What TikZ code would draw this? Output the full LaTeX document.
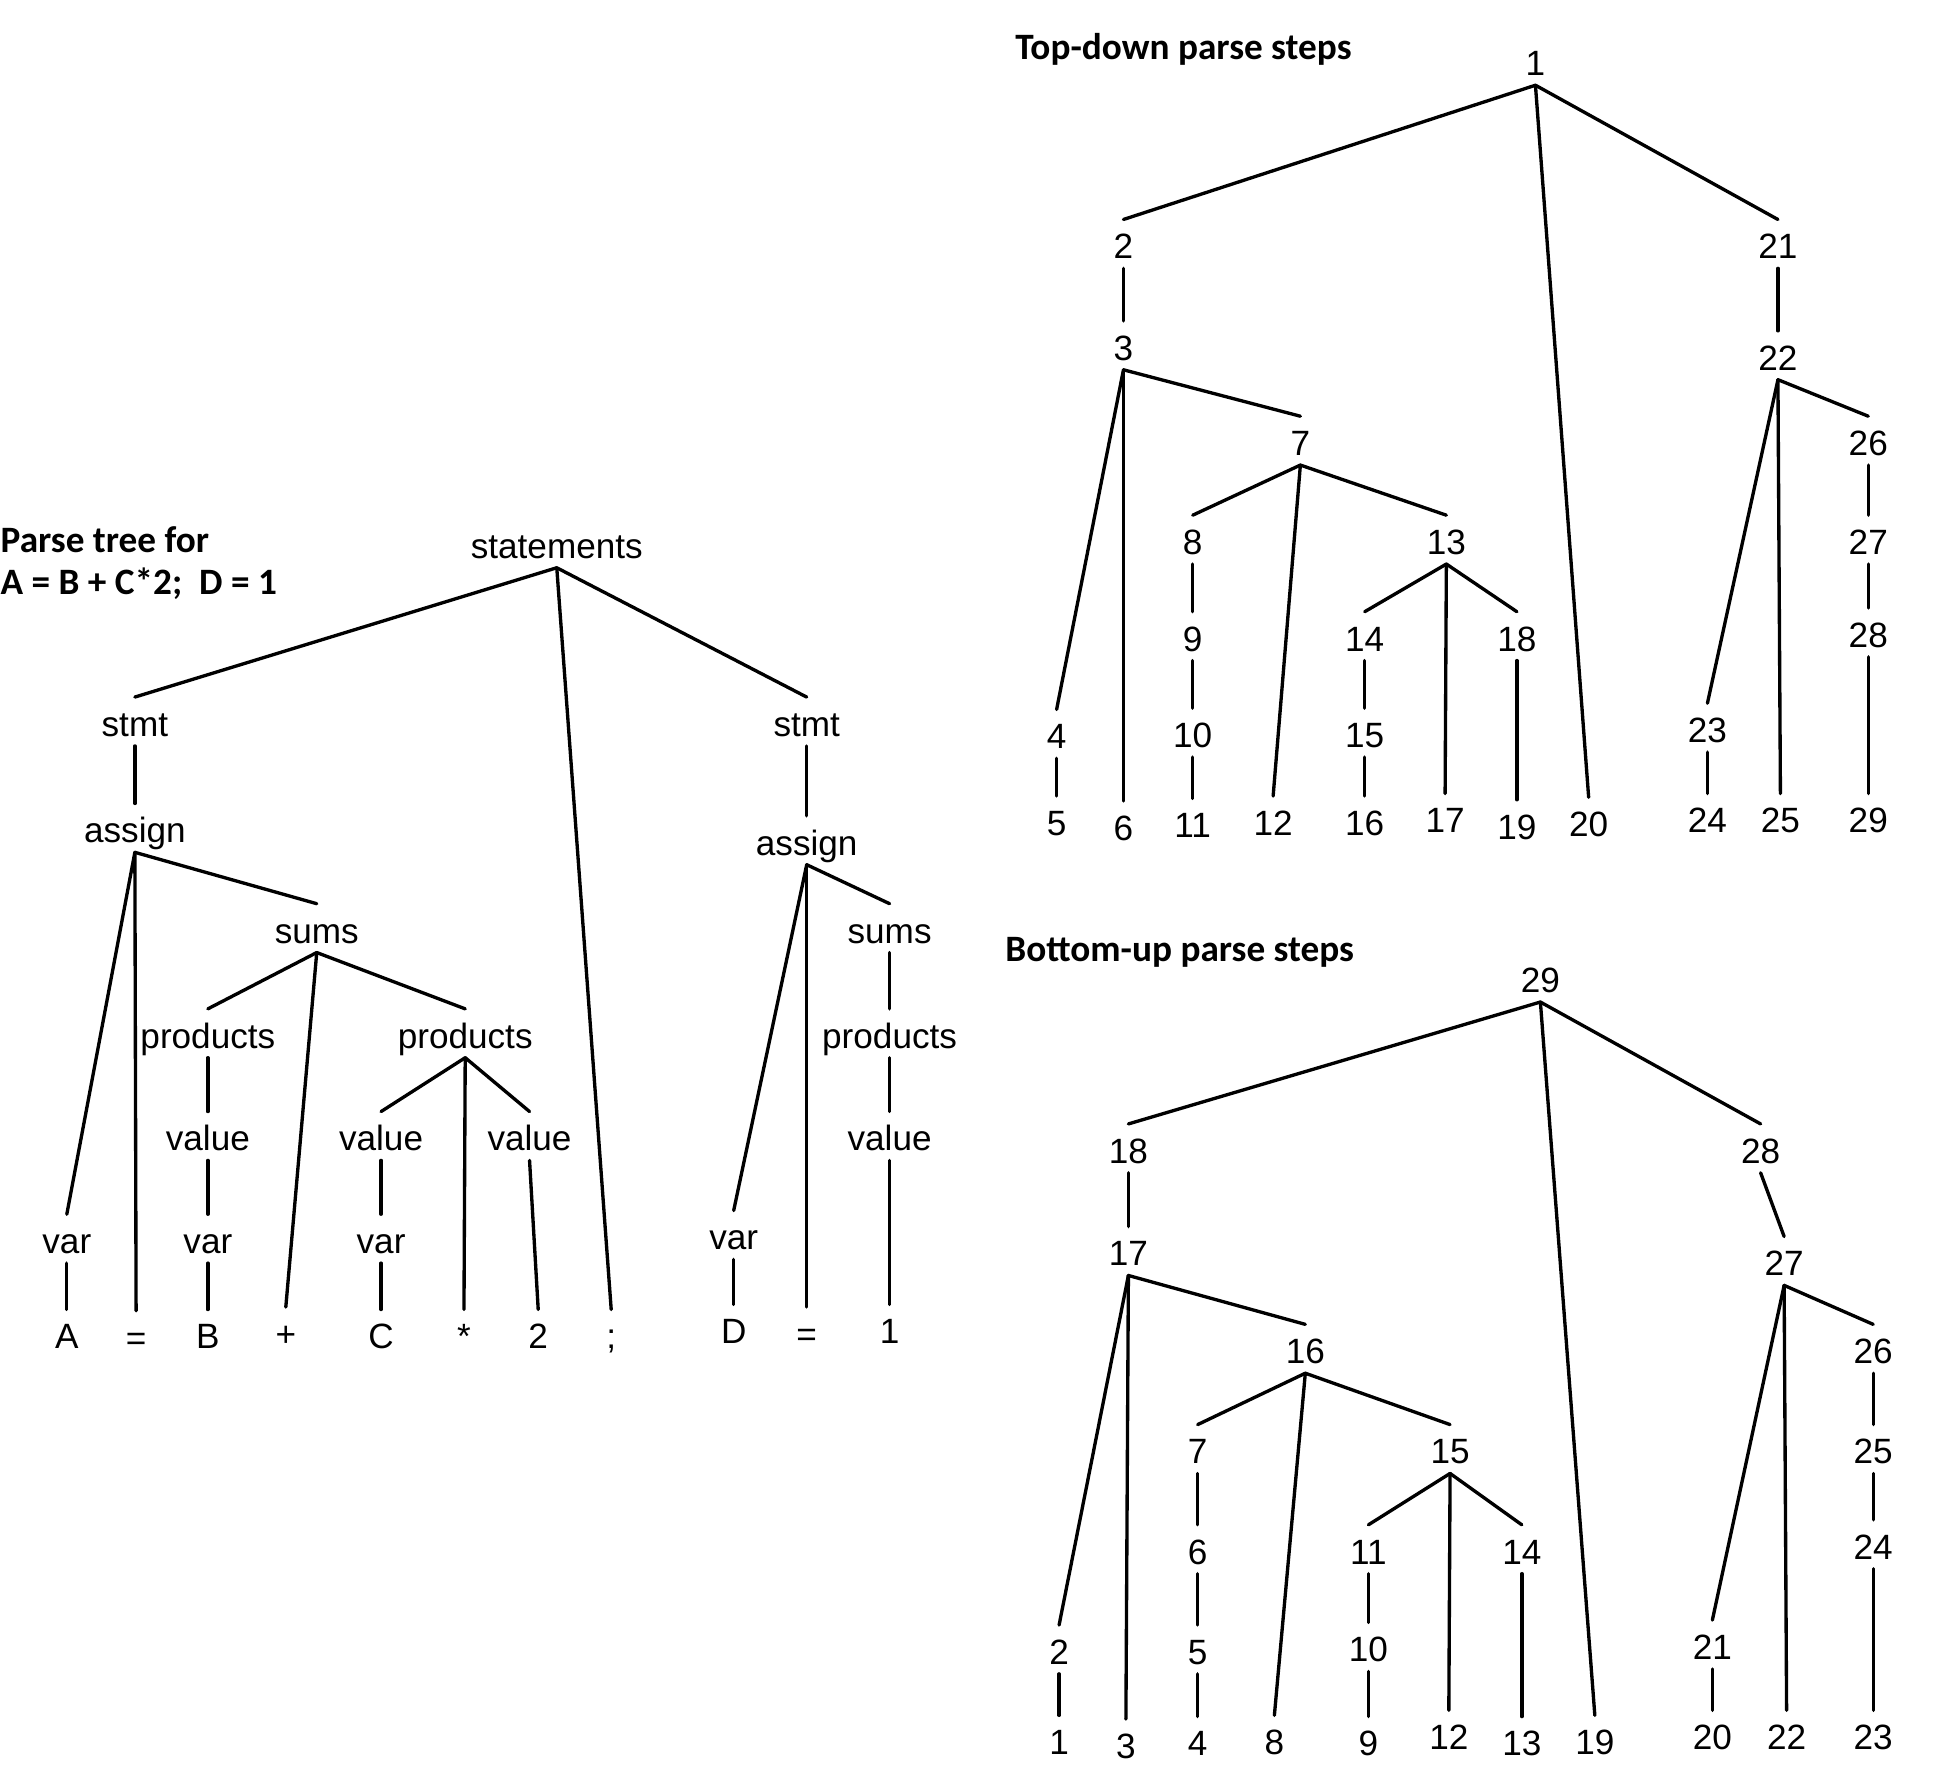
\documentclass[tikz,border=0pt]{standalone}
\usepackage{fontspec}
\setmainfont{Liberation Sans}
\newfontfamily\headfont{Carlito}
\tikzset{
  tn/.style={font=\fontsize{10}{12}\selectfont, anchor=base, yshift=-3.6pt,
             text height=8.5pt, text depth=0pt, inner xsep=1pt, inner ysep=2.5pt},
  head/.style={font=\headfont\bfseries\fontsize{10.6}{12.7}\selectfont,
               anchor=west, inner sep=0pt},
  edge/.style={line width=0.95pt, line cap=round},
}

\begin{document}
\begin{tikzpicture}[x=0.012372cm, y=-0.012372cm]
  \useasboundingbox (0,0) rectangle (1568,1427);

  % Headings
  \node[head] (hparse) at (0,436) {Parse tree for};
  \node[head] (hexpr) at (0,472) {A = B + C*2;\ \ D = 1};
  \node[head] (htop) at (820,40) {Top-down parse steps};
  \node[head] (hbot) at (812,770) {Bottom-up parse steps};

  % Parse tree, first statement
  \node[tn] (stmts) at (450,441) {statements};
  \node[tn] (stmtL) at (109,585) {stmt};
  \node[tn] (asgL) at (109,671) {assign};
  \node[tn] (sumsL) at (256,752) {sums};
  \node[tn] (prodB) at (168,837) {products};
  \node[tn] (prodC) at (376,837) {products};
  \node[tn] (valB) at (168,920) {value};
  \node[tn] (valC) at (308,920) {value};
  \node[tn] (valT) at (428,920) {value};
  \node[tn] (varA) at (54,1003) {var};
  \node[tn] (varB) at (168,1003) {var};
  \node[tn] (varC) at (308,1003) {var};
  \node[tn] (tkA) at (54,1080) {A};
  \node[tn] (tkEq) at (110,1081) {=};
  \node[tn] (tkB) at (168,1080) {B};
  \node[tn] (tkPlus) at (231,1078) {+};
  \node[tn] (tkC) at (308,1080) {C};
  \node[tn] (tkStar) at (375,1080) {*};
  \node[tn] (tkTwo) at (435,1080) {2};
  \node[tn] (tkSemi) at (494,1080) {;};
  % second statement
  \node[tn] (stmtR) at (652,585) {stmt};
  \node[tn] (asgR) at (652,681) {assign};
  \node[tn] (sumsR) at (719,752) {sums};
  \node[tn] (prodD) at (719,837) {products};
  \node[tn] (valD) at (719,920) {value};
  \node[tn] (varD) at (593,1000) {var};
  \node[tn] (tkD) at (593,1076) {D};
  \node[tn] (tkEq2) at (652,1078) {=};
  \node[tn] (tkOne) at (719,1076) {1};

  \foreach \a/\b in {stmts/stmtL, stmts/tkSemi, stmts/stmtR, stmtL/asgL,
      asgL/varA, asgL/tkEq, asgL/sumsL, sumsL/prodB, sumsL/tkPlus, sumsL/prodC,
      prodB/valB, valB/varB, varB/tkB, prodC/valC, prodC/tkStar, prodC/valT,
      valC/varC, varC/tkC, valT/tkTwo, varA/tkA, stmtR/asgR, asgR/varD,
      asgR/tkEq2, asgR/sumsR, sumsR/prodD, prodD/valD, valD/tkOne, varD/tkD}
    \draw[edge] (\a.south) -- (\b.north);

  % Top-down steps
  \foreach \n/\x/\y in {1/1241/51, 2/908/199, 21/1437/199, 3/908/281, 22/1437/289,
      7/1051/358, 26/1510/358, 8/964/438, 13/1169/438, 27/1510/438,
      9/964/516, 14/1103/516, 18/1226/516, 28/1510/513,
      4/854/595, 10/964/594, 15/1103/594, 23/1380/590,
      5/854/665, 6/908/669, 11/964/667, 12/1029/665, 16/1103/665, 17/1168/663,
      19/1226/668, 20/1284/666, 24/1380/663, 25/1439/663, 29/1510/663}
    \node[tn] (t\n) at (\x,\y) {\n};
  \foreach \a/\b in {1/2, 1/20, 1/21, 2/3, 3/4, 3/6, 3/7, 4/5, 7/8, 7/12, 7/13,
      8/9, 9/10, 10/11, 13/14, 13/17, 13/18, 14/15, 15/16, 18/19, 21/22,
      22/23, 22/25, 22/26, 23/24, 26/27, 27/28, 28/29}
    \draw[edge] (t\a.south) -- (t\b.north);

  % Bottom-up steps
  \foreach \n/\x/\y in {29/1245/792, 18/912/930, 28/1423/930, 17/912/1013, 27/1442/1021,
      16/1055/1092, 26/1514/1092, 7/968/1173, 15/1172/1173, 25/1514/1173,
      6/968/1254, 11/1106/1254, 14/1230/1254, 24/1514/1250,
      2/856/1335, 5/968/1335, 10/1106/1333, 21/1384/1331,
      1/856/1408, 3/910/1411, 4/968/1409, 8/1030/1408, 9/1106/1409, 12/1171/1404,
      13/1230/1409, 19/1289/1408, 20/1384/1404, 22/1444/1404, 23/1514/1404}
    \node[tn] (b\n) at (\x,\y) {\n};
  \foreach \a/\b in {29/18, 29/19, 29/28, 18/17, 17/2, 17/3, 17/16, 2/1, 16/7, 16/8,
      16/15, 7/6, 6/5, 5/4, 15/11, 15/12, 15/14, 11/10, 10/9, 14/13, 28/27,
      27/21, 27/22, 27/26, 21/20, 26/25, 25/24, 24/23}
    \draw[edge] (b\a.south) -- (b\b.north);
\end{tikzpicture}
\end{document}
